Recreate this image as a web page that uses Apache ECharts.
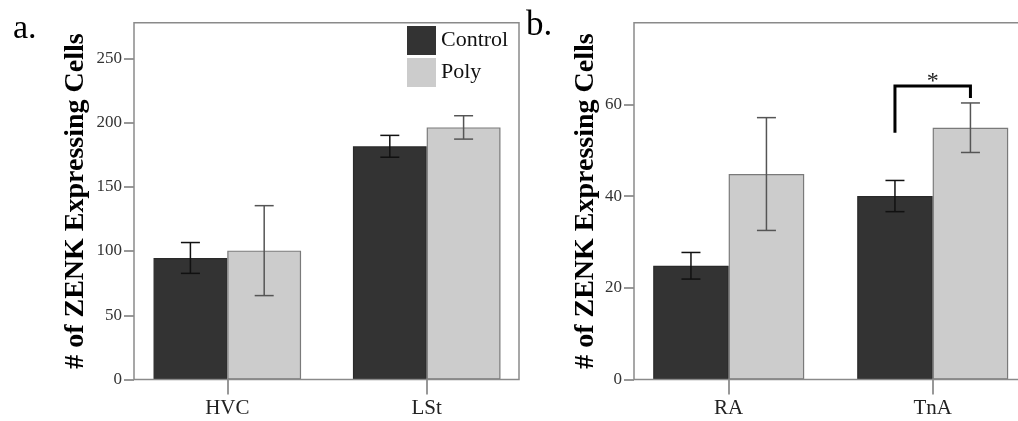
<!DOCTYPE html>
<html>
<head>
<meta charset="utf-8">
<script src="https://cdn.jsdelivr.net/npm/echarts@6/dist/echarts.min.js"></script>
<style>
html,body{margin:0;padding:0;background:#fff;overflow:hidden;width:1018px;height:421px;}
#chart{width:1040px;height:421px;}
</style>
</head>
<body>
<div id="chart"></div>
<script>
// ---------- data ----------
const regionsA = ['HVC', 'LSt'];
const controlA = [94.6, 181.5];
const controlErrA = [12.0, 8.5];
const polyA = [100.3, 196.2];
const polyErrA = [35.0, 9.1];
const ticksA = [0, 50, 100, 150, 200, 250];

const regionsB = ['RA', 'TnA'];
const controlB = [24.8, 40.0];
const controlErrB = [2.9, 3.4];
const polyB = [44.8, 54.9];
const polyErrB = [12.3, 5.4];
const ticksB = [0, 20, 40, 60];

// significance bracket on TnA: [category index, top, left end, right end, star level]
const bracketB = [[1, 64.0, 53.8, 61.4, 65.0]];

const seriesNames = ['Control', 'Poly'];
const yTitle = '# of ZENK Expressing Cells';

// ---------- style ----------
const FONT = "'Liberation Serif', 'Times New Roman', serif";
const DARK = '#333333';
const LIGHT = '#cccccc';
const CAT_GAP = 0.26;

const chart = echarts.init(document.getElementById('chart'));

function errRender(sign, color) {
  return function (params, api) {
    const cat = api.value(0), v = api.value(1), e = api.value(2);
    const band = api.size([1, 0])[0];
    const bw = band * (1 - CAT_GAP) / 2;
    const x = api.coord([cat, v])[0] + sign * bw / 2;
    const yHi = api.coord([cat, v + e])[1];
    const yLo = api.coord([cat, v - e])[1];
    const cap = 9.5;
    const st = { stroke: color, lineWidth: 1.5 };
    return {
      type: 'group',
      children: [
        { type: 'line', shape: { x1: x, y1: yHi, x2: x, y2: yLo }, style: st },
        { type: 'line', shape: { x1: x - cap, y1: yHi, x2: x + cap, y2: yHi }, style: st },
        { type: 'line', shape: { x1: x - cap, y1: yLo, x2: x + cap, y2: yLo }, style: st }
      ]
    };
  };
}

function bracketRender(params, api) {
  const cat = api.value(0);
  const top = api.value(1), l = api.value(2), r = api.value(3), star = api.value(4);
  const band = api.size([1, 0])[0];
  const bw = band * (1 - CAT_GAP) / 2;
  const cx = api.coord([cat, top])[0];
  const xl = cx - bw / 2, xr = cx + bw / 2;
  const yT = api.coord([cat, top])[1];
  const yL = api.coord([cat, l])[1];
  const yR = api.coord([cat, r])[1];
  const yS = api.coord([cat, star])[1];
  return {
    type: 'group',
    children: [
      { type: 'polyline', shape: { points: [[xl, yL], [xl, yT], [xr, yT], [xr, yR]] },
        style: { stroke: '#000', lineWidth: 3, fill: null } },
      { type: 'text', x: (xl + xr) / 2, y: yS,
        style: { text: '*', font: '24px ' + FONT, fill: '#222', align: 'center', verticalAlign: 'middle' } }
    ]
  };
}

function yAxisCfg(gridIndex, max, ticks, offset, nameGap) {
  return {
    type: 'value', gridIndex: gridIndex, min: 0, max: max, offset: offset,
    name: yTitle, nameLocation: 'middle', nameGap: nameGap, nameRotate: 90,
    nameTextStyle: { fontFamily: FONT, fontWeight: 'bold', fontSize: 28, color: '#000' },
    axisLine: { show: false },
    splitLine: { show: false },
    axisTick: { show: true, length: 10, customValues: ticks, lineStyle: { color: '#777', width: 1.5 } },
    axisLabel: { customValues: ticks, margin: 12, fontFamily: FONT, fontSize: 17, color: '#333' }
  };
}

function xAxisCfg(gridIndex, cats) {
  return {
    type: 'category', gridIndex: gridIndex, data: cats,
    axisLine: { show: false },
    axisTick: { show: true, alignWithLabel: true, length: 15, lineStyle: { color: '#777', width: 1.5 } },
    axisLabel: { margin: 18, fontFamily: FONT, fontSize: 21, color: '#222' }
  };
}

function barSeries(name, idx, data, color, border) {
  return {
    type: 'bar', name: name, xAxisIndex: idx, yAxisIndex: idx, data: data,
    barGap: 0, barCategoryGap: (CAT_GAP * 100) + '%',
    itemStyle: { color: color, borderColor: border, borderWidth: 1.2 },
    emphasis: { disabled: true }
  };
}

function errSeries(idx, cats, vals, errs, sign, color) {
  return {
    type: 'custom', xAxisIndex: idx, yAxisIndex: idx, z: 5, silent: true,
    renderItem: errRender(sign, color),
    data: cats.map((c, i) => [i, vals[i], errs[i]])
  };
}

const frameStyle = { fill: null, stroke: '#8a8a8a', lineWidth: 1.5 };

const option = {
  animation: false,
  backgroundColor: '#fff',
  grid: [
    { left: 127.6, top: 22.7, width: 398.8, height: 356.8 },
    { left: 626.7, top: 22.7, width: 408, height: 356.8 }
  ],
  xAxis: [xAxisCfg(0, regionsA), xAxisCfg(1, regionsB)],
  yAxis: [yAxisCfg(0, 277.7, ticksA, -6.4, 44), yAxisCfg(1, 77.8, ticksB, -7.3, 34)],
  legend: {
    data: seriesNames, orient: 'vertical', left: 407, top: 26, padding: 0,
    itemWidth: 29, itemHeight: 29, itemGap: 3, icon: 'rect',
    itemStyle: { borderWidth: 0 },
    textStyle: { fontFamily: FONT, fontSize: 22, color: '#111' }
  },
  graphic: [
    { type: 'rect', z: 10, silent: true, shape: { x: 134, y: 22.7, width: 385, height: 356.8 }, style: frameStyle },
    { type: 'rect', z: 10, silent: true, shape: { x: 634, y: 22.7, width: 393, height: 356.8 }, style: frameStyle },
    { type: 'text', left: 13, top: 12, style: { text: 'a.', font: '34px ' + FONT, fill: '#000' } },
    { type: 'text', left: 526, top: 8, style: { text: 'b.', font: '35px ' + FONT, fill: '#000' } }
  ],
  series: [
    barSeries(seriesNames[0], 0, controlA, DARK, '#2a2a2a'),
    barSeries(seriesNames[1], 0, polyA, LIGHT, '#7a7a7a'),
    barSeries(seriesNames[0], 1, controlB, DARK, '#2a2a2a'),
    barSeries(seriesNames[1], 1, polyB, LIGHT, '#7a7a7a'),
    errSeries(0, regionsA, controlA, controlErrA, -1, '#111'),
    errSeries(0, regionsA, polyA, polyErrA, 1, '#555'),
    errSeries(1, regionsB, controlB, controlErrB, -1, '#111'),
    errSeries(1, regionsB, polyB, polyErrB, 1, '#555'),
    { type: 'custom', xAxisIndex: 1, yAxisIndex: 1, z: 6, silent: true,
      renderItem: bracketRender, data: bracketB }
  ]
};
chart.setOption(option);
</script>
</body>
</html>
